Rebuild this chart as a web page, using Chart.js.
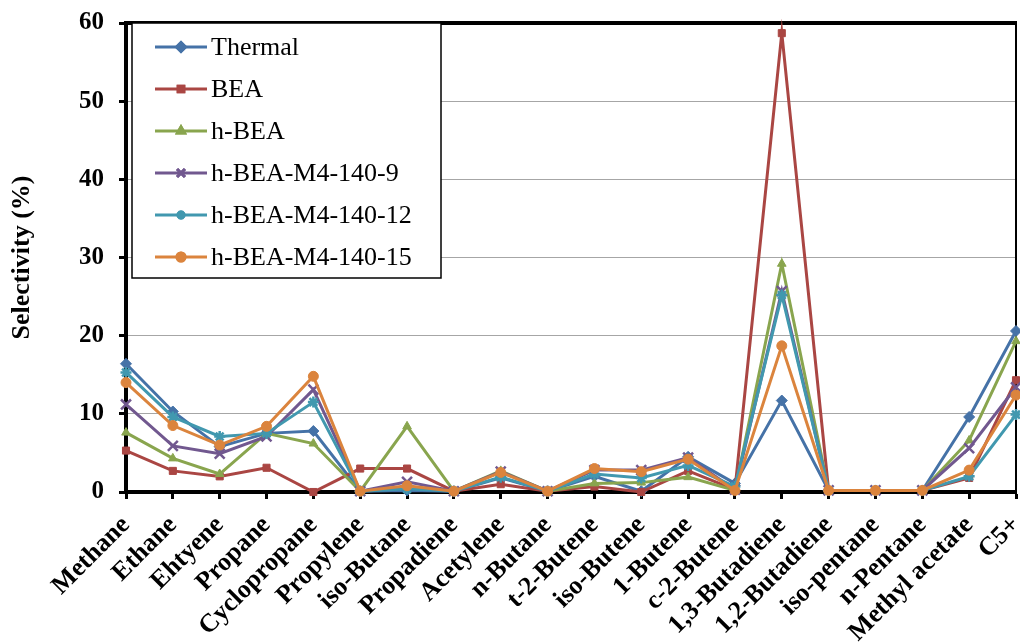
<!DOCTYPE html>
<html>
<head>
<meta charset="utf-8">
<script src="https://cdn.jsdelivr.net/npm/chart.js@4"></script>
<style>
  html, body { margin: 0; padding: 0; background: #fff; }
  #wrap { width: 1020px; height: 643px; }
</style>
</head>
<body>
<div id="wrap"><canvas id="chart" width="1020" height="643"></canvas></div>
<script>
const categories = ['Methane', 'Ethane', 'Ehtyene', 'Propane', 'Cyclopropane', 'Propylene',
  'iso-Butane', 'Propadiene', 'Acetylene', 'n-Butane', 't-2-Butene', 'iso-Butene', '1-Butene',
  'c-2-Butene', '1,3-Butadiene', '1,2-Butadiene', 'iso-pentane', 'n-Pentane', 'Methyl acetate', 'C5+'];

const thermal = [16.4, 10.3, 5.8, 7.5, 7.8, 0.1, 0.2, 0.1, 1.8, 0.1, 2.0, 0.1, 4.5, 1.1, 11.7, 0.2, 0.2, 0.2, 9.6, 20.6];
const bea     = [5.3, 2.7, 2.0, 3.1, 0.0, 3.0, 3.0, 0.1, 1.0, 0.1, 0.7, 0.0, 2.7, 0.3, 58.7, 0.2, 0.2, 0.2, 1.8, 14.3];
const hBea    = [7.6, 4.3, 2.3, 7.5, 6.2, 0.1, 8.4, 0.1, 2.7, 0.1, 1.1, 1.2, 1.9, 0.2, 29.2, 0.2, 0.2, 0.2, 6.6, 19.3];
const m4_9    = [11.2, 5.9, 4.9, 7.1, 13.1, 0.1, 1.3, 0.1, 2.6, 0.1, 2.8, 2.8, 4.4, 0.3, 25.7, 0.2, 0.2, 0.2, 5.6, 13.4];
const m4_12   = [15.3, 9.6, 7.1, 7.5, 11.5, 0.1, 0.4, 0.1, 1.9, 0.1, 2.3, 1.8, 3.4, 0.7, 25.2, 0.2, 0.2, 0.2, 2.0, 9.9];
const m4_15   = [14.0, 8.5, 6.0, 8.4, 14.8, 0.1, 0.8, 0.1, 2.5, 0.1, 3.0, 2.6, 4.2, 0.2, 18.7, 0.2, 0.2, 0.2, 2.8, 12.4];

const yTicks = [0, 10, 20, 30, 40, 50, 60];

const serif = "'Liberation Serif', 'Times New Roman', serif";

function series(label, data, color, style, radius, order) {
  return {
    label: label,
    data: data,
    borderColor: color,
    backgroundColor: color,
    pointBorderColor: color,
    pointBackgroundColor: color,
    borderWidth: 3,
    pointStyle: style,
    pointRadius: radius,
    pointBorderWidth: style === 'crossRot' || style === 'star' ? 2.5 : 1,
    tension: 0,
    clip: false,
    order: order
  };
}

// no extra room around the axes, the layout padding decides the plot box
function noPad(scale) {
  scale.paddingTop = 0;
  scale.paddingBottom = 0;
  scale.paddingLeft = 0;
  scale.paddingRight = 0;
}

// boxed legend inside the plot, Excel style: short line with the marker on it
const boxLegend = {
  id: 'boxLegend',
  beforeDatasetsDraw(chart) {
    const { ctx, chartArea } = chart;
    ctx.save();
    ctx.strokeStyle = '#000';
    ctx.lineWidth = 4;
    ctx.beginPath();
    ctx.moveTo(chartArea.left - 2, chartArea.top);
    ctx.lineTo(chartArea.right + 1, chartArea.top);
    ctx.stroke();
    ctx.lineWidth = 2;
    ctx.beginPath();
    ctx.moveTo(chartArea.right, chartArea.top);
    ctx.lineTo(chartArea.right, chartArea.bottom);
    ctx.stroke();
    ctx.restore();
  },
  afterDraw(chart) {
    const { ctx, chartArea } = chart;
    const x0 = 132, y0 = chartArea.top, w = 309, h = 255;
    ctx.save();
    ctx.fillStyle = '#fff';
    ctx.fillRect(x0, y0, w, h);
    ctx.strokeStyle = '#000';
    ctx.lineWidth = 1.5;
    ctx.strokeRect(x0, y0, w, h);
    ctx.font = '26px ' + serif;
    ctx.textBaseline = 'middle';
    ctx.fillStyle = '#000';
    chart.data.datasets.forEach((ds, i) => {
      const cy = y0 + 24 + i * 42;
      ctx.strokeStyle = ds.borderColor;
      ctx.lineWidth = 3;
      ctx.beginPath();
      ctx.moveTo(155, cy);
      ctx.lineTo(207, cy);
      ctx.stroke();
      Chart.helpers.drawPoint(ctx, {
        pointStyle: ds.pointStyle,
        radius: ds.pointRadius * 0.8,
        borderWidth: ds.pointBorderWidth
      }, 181, cy);
      ctx.fillStyle = ds.borderColor;
      ctx.strokeStyle = ds.borderColor;
      ctx.fill();
      ctx.stroke();
      ctx.fillStyle = '#000';
      ctx.fillText(ds.label, 211, cy + 1);
    });
    ctx.restore();
  }
};

new Chart(document.getElementById('chart').getContext('2d'), {
  type: 'line',
  data: {
    labels: categories,
    datasets: [
      series('Thermal', thermal, '#4572A7', 'rectRot', 5.5, 5),
      series('BEA', bea, '#AA4643', 'rect', 5, 4),
      series('h-BEA', hBea, '#89A54E', 'triangle', 5, 3),
      series('h-BEA-M4-140-9', m4_9, '#71588F', 'crossRot', 7, 2),
      series('h-BEA-M4-140-12', m4_12, '#4198AF', 'star', 5.5, 1),
      series('h-BEA-M4-140-15', m4_15, '#DB843D', 'circle', 5, 0)
    ]
  },
  options: {
    responsive: false,
    animation: false,
    layout: { autoPadding: false, padding: { left: 0, right: 4, top: 23, bottom: 0 } },
    plugins: {
      legend: { display: false },
      tooltip: { enabled: false }
    },
    scales: {
      x: {
        offset: false,
        afterFit(scale) { scale.height = 151; noPad(scale); },
        grid: {
          drawOnChartArea: false,
          tickColor: '#000',
          tickWidth: 3,
          tickLength: 7
        },
        border: { color: '#000', width: 4 },
        ticks: {
          autoSkip: false,
          minRotation: 45,
          maxRotation: 45,
          padding: 11,
          color: '#000',
          font: { family: serif, size: 26, weight: 'bold' }
        }
      },
      y: {
        min: 0,
        max: 60,
        afterFit(scale) { scale.width = 126; noPad(scale); },
        afterBuildTicks(scale) { scale.ticks = yTicks.map(v => ({ value: v })); },
        grid: {
          color: '#a6a6a6',
          lineWidth: 1,
          tickColor: '#000',
          tickWidth: 3,
          tickLength: 7
        },
        border: { color: '#000', width: 4 },
        ticks: {
          padding: 15,
          color: '#000',
          font: { family: serif, size: 25, weight: 'bold' }
        },
        title: {
          display: true,
          text: 'Selectivity (%)',
          color: '#000',
          padding: { top: 7, bottom: 0 },
          font: { family: serif, size: 26, weight: 'bold' }
        }
      }
    }
  },
  plugins: [boxLegend]
});
</script>
</body>
</html>
